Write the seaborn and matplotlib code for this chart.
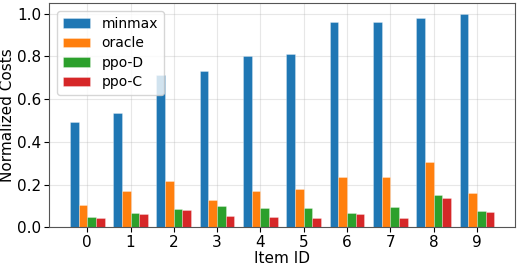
import pandas as pd
import matplotlib
matplotlib.use("Agg")
import matplotlib.pyplot as plt
import seaborn as sns

# values
items = list(range(10))
methods = ["minmax", "oracle", "ppo-D", "ppo-C"]
minmax = [0.492, 0.537, 0.714, 0.731, 0.800, 0.811, 0.960, 0.960, 0.978, 1.000]
oracle = [0.103, 0.171, 0.217, 0.129, 0.171, 0.180, 0.234, 0.234, 0.305, 0.160]
ppo_d = [0.049, 0.069, 0.088, 0.100, 0.089, 0.091, 0.069, 0.095, 0.152, 0.078]
ppo_c = [0.046, 0.063, 0.083, 0.054, 0.049, 0.045, 0.065, 0.046, 0.138, 0.074]
colors = ["#1f77b4", "#ff7f0e", "#2ca02c", "#d62728"]

rows = []
for name, vals in zip(methods, [minmax, oracle, ppo_d, ppo_c]):
    for i, v in zip(items, vals):
        rows.append({"Item ID": i, "Method": name, "Cost": v})
df = pd.DataFrame(rows)

fs = 11
fig, ax = plt.subplots(figsize=(5.18, 2.66), dpi=100)
sns.barplot(data=df, x="Item ID", y="Cost", hue="Method", hue_order=methods,
            palette=colors, saturation=1, width=0.8, ax=ax,
            edgecolor=(1, 1, 1, 0.4), linewidth=0.5)

ax.set_xlim(-0.89, 9.89)
ax.set_ylim(0, 1.05)
ax.set_yticks([0.0, 0.2, 0.4, 0.6, 0.8, 1.0])
ax.set_xlabel("Item ID", fontsize=fs, labelpad=1)
ax.set_ylabel("Normalized Costs", fontsize=fs, labelpad=1)
ax.tick_params(labelsize=fs, pad=2)
ax.grid(True, alpha=0.3)
ax.set_axisbelow(True)
for s in ax.spines.values():
    s.set_color("#555555")
ax.legend(loc="upper left", fontsize=10, title=None, borderaxespad=0.6,
          labelspacing=0.4)

fig.subplots_adjust(left=0.094, right=0.995, top=0.989, bottom=0.145)
fig.savefig("out.png", dpi=100)
